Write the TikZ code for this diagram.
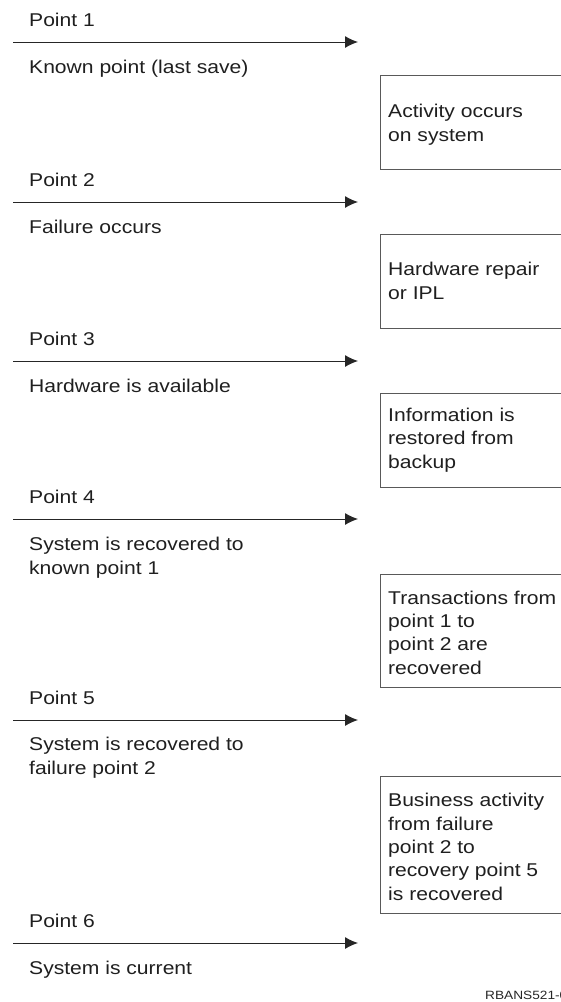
\documentclass[tikz,border=0pt]{standalone}
\usepackage{fontspec}
\setmainfont[FakeStretch=1.14]{Liberation Sans}
\usetikzlibrary{arrows.meta}
\begin{document}
\begin{tikzpicture}[x=1pt,y=-1pt,>={Latex[length=13pt,width=12pt]},
        txt/.style={anchor=base west,inner sep=0pt,align=left,
            font=\fontsize{18.5}{23.3}\selectfont,text=black!88},
        pointline/.style={->,line width=1pt,black!85},
        boxline/.style={line width=0.9pt,black!65}]
        \useasboundingbox (0,0) rectangle (561,1002);
        \clip (0,0) rectangle (561,1002);

        % the points on the time line with what is known there
        % (the base of a text is its last line)
        \foreach \y/\b/\n/\what in {
            42/73/1/{Known point (last save)},
            202/233/2/{Failure occurs},
            361/392/3/{Hardware is available},
            519/574/4/{System is recovered to\\known point 1},
            720/774/5/{System is recovered to\\failure point 2},
            943/974/6/{System is current}} {
                \coordinate (start\n) at (13,\y);
                \coordinate (end\n) at (358,\y);
                \draw[pointline] (start\n) -- (end\n);
                \node[txt] (point\n) at (29,\y-16) {Point \n};
                \node[txt] (state\n) at (29,\b) {\what};
        }

        % the boxes on the right, open at the page edge
        \foreach \top/\bot/\base/\n/\what in {
            75/169/141/1/{Activity occurs\\on system},
            234/328/299/2/{Hardware repair\\or IPL},
            393/487/468/3/{Information is\\restored from\\backup},
            574/687/674/4/{Transactions from\\point 1 to\\point 2 are\\recovered},
            776/913/900/5/{Business activity\\from failure\\point 2 to\\recovery point 5\\is recovered}} {
                \coordinate (ne\n) at (561,\top);
                \coordinate (nw\n) at (380,\top);
                \coordinate (sw\n) at (380,\bot);
                \coordinate (se\n) at (561,\bot);
                \draw[boxline] (ne\n) -- (nw\n) -- (sw\n) -- (se\n);
                \node[txt] (step\n) at (388,\base) {\what};
        }

        % figure number, cut at the page edge
        \node[anchor=base west,inner sep=0pt,font=\fontsize{12}{14}\selectfont,text=black!85]
            (figno) at (485,999) {RBANS521-0};
\end{tikzpicture}
\end{document}
